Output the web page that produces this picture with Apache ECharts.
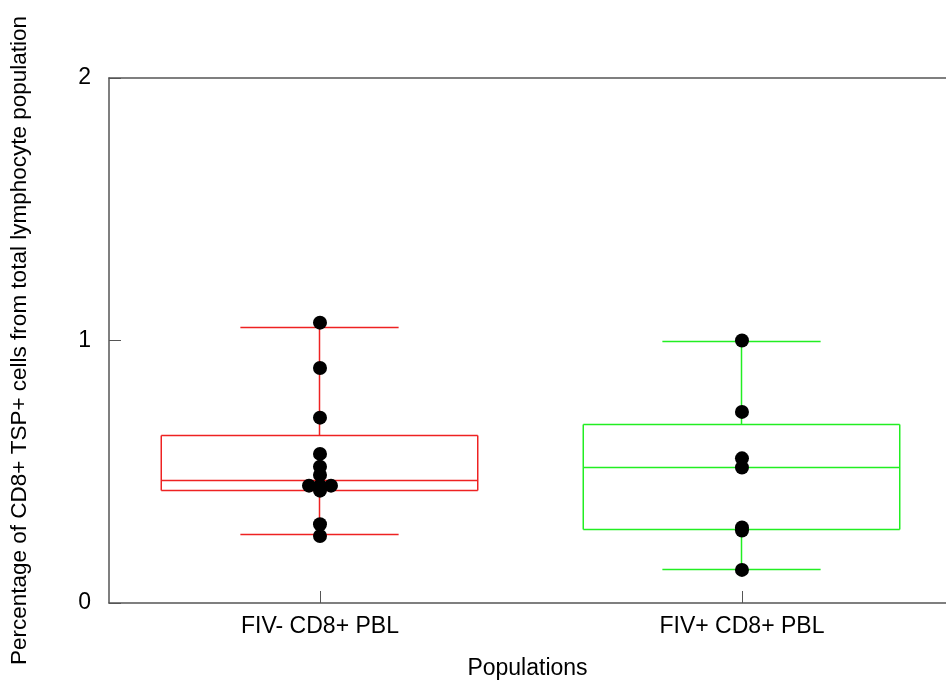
<!DOCTYPE html>
<html>
<head>
<meta charset="utf-8">
<script src="https://cdn.jsdelivr.net/npm/echarts@6/dist/echarts.min.js"></script>
<style>
  html, body { margin: 0; padding: 0; background: #fff; }
  #chart { width: 946px; height: 688px; }
</style>
</head>
<body>
<div id="chart"></div>
<script>
// groups on the x axis
var categories = ['FIV- CD8+ PBL', 'FIV+ CD8+ PBL']
// box statistics per group
var lowWhisker = [0.26, 0.126]
var q1 = [0.43, 0.279]
var median = [0.465, 0.517]
var q3 = [0.638, 0.681]
var highWhisker = [1.051, 0.996]
// raw observations
var fivNegPoints = [1.068, 0.895, 0.706, 0.568, 0.519, 0.488, 0.447, 0.447, 0.447, 0.428, 0.300, 0.255]
var fivPosPoints = [1.0, 0.728, 0.551, 0.516, 0.288, 0.276, 0.126]

var boxColors = ['#ee2222', '#22ee22']
var axisColor = '#555'
var font = 'Liberation Sans, Arial, sans-serif'

var boxData = categories.map(function (c, i) {
    return [i, lowWhisker[i], q1[i], median[i], q3[i], highWhisker[i]]
})

// spread tied values sideways so they stay visible
function pointsFor(idx, values) {
    var seen = {}
    return values.map(function (v) {
        var n = values.filter(function (w) { return w === v }).length
        seen[v] = (seen[v] || 0) + 1
        var k = seen[v] - 1
        var off = n > 1 ? (k - (n - 1) / 2) * 11 : 0
        return { value: [idx, v], symbolOffset: [off, 0] }
    })
}

var crisp = function (p) { return Math.round(p - 0.5) + 0.5 }
var catIdx = categories.map(function (c, i) { return i })

var myChart = echarts.init(document.getElementById('chart'))

myChart.setOption({
    animation: false,
    grid: { left: 108, top: 78, bottom: 85, right: 0 },
    xAxis: [
        {
            type: 'value',
            // the frame runs a little past the right edge of the picture
            min: -0.5,
            max: 1.4835,
            axisLine: { show: true, onZero: false, lineStyle: { color: axisColor, width: 1.5 } },
            axisTick: { show: true, inside: true, length: 12, customValues: catIdx, lineStyle: { color: axisColor } },
            axisLabel: {
                color: '#000', fontSize: 23, fontFamily: font, margin: 12,
                customValues: catIdx,
                formatter: function (v) { return categories[Math.round(v)] }
            },
            splitLine: { show: false },
            name: 'Populations',
            nameLocation: 'middle',
            nameGap: 54,
            nameTextStyle: { color: '#000', fontSize: 23, fontFamily: font }
        },
        {
            type: 'value',
            position: 'top',
            min: -0.5,
            max: 1.4835,
            axisLine: { show: true, onZero: false, lineStyle: { color: axisColor, width: 1.5 } },
            axisTick: { show: false },
            axisLabel: { show: false },
            splitLine: { show: false }
        }
    ],
    yAxis: {
        type: 'value',
        min: 0,
        max: 2,
        interval: 1,
        axisLine: { show: true, onZero: false, lineStyle: { color: axisColor, width: 1.5 } },
        axisTick: { show: true, inside: true, length: 12, lineStyle: { color: axisColor } },
        axisLabel: { color: '#000', fontSize: 23, fontFamily: font, margin: 18 },
        splitLine: { show: false },
        name: 'Percentage of CD8+ TSP+ cells from total lymphocyte population',
        nameLocation: 'middle',
        nameRotate: 90,
        nameGap: 78,
        nameTextStyle: { color: '#000', fontSize: 22.5, fontFamily: font }
    },
    series: [
        {
            type: 'custom',
            xAxisIndex: 0,
            data: boxData,
            renderItem: function (params, api) {
                var i = api.value(0)
                var color = boxColors[i]
                var unit = api.size([1, 0])[0]
                var boxHalf = unit * 0.375
                var capHalf = unit * 0.1875
                var x = crisp(api.coord([i, 0])[0])
                var yLow = crisp(api.coord([i, api.value(1)])[1])
                var yQ1 = crisp(api.coord([i, api.value(2)])[1])
                var yMed = crisp(api.coord([i, api.value(3)])[1])
                var yQ3 = crisp(api.coord([i, api.value(4)])[1])
                var yHigh = crisp(api.coord([i, api.value(5)])[1])
                var seg = function (x1, y1, x2, y2) {
                    return {
                        type: 'line',
                        shape: { x1: x1, y1: y1, x2: x2, y2: y2 },
                        style: { stroke: color, lineWidth: 1.5 }
                    }
                }
                var l = x - boxHalf, r = x + boxHalf
                return {
                    type: 'group',
                    children: [
                        seg(l, yQ3, r, yQ3),
                        seg(l, yQ1, r, yQ1),
                        seg(l, yQ3, l, yQ1),
                        seg(r, yQ3, r, yQ1),
                        seg(l, yMed, r, yMed),
                        seg(x, yQ3, x, yHigh),
                        seg(x, yQ1, x, yLow),
                        seg(x - capHalf, yHigh, x + capHalf, yHigh),
                        seg(x - capHalf, yLow, x + capHalf, yLow)
                    ]
                }
            }
        },
        {
            type: 'scatter',
            xAxisIndex: 0,
            symbol: 'circle',
            symbolSize: 14,
            itemStyle: { color: '#000', opacity: 1 },
            data: pointsFor(0, fivNegPoints).concat(pointsFor(1, fivPosPoints)),
            z: 5
        }
    ]
})
</script>
</body>
</html>
